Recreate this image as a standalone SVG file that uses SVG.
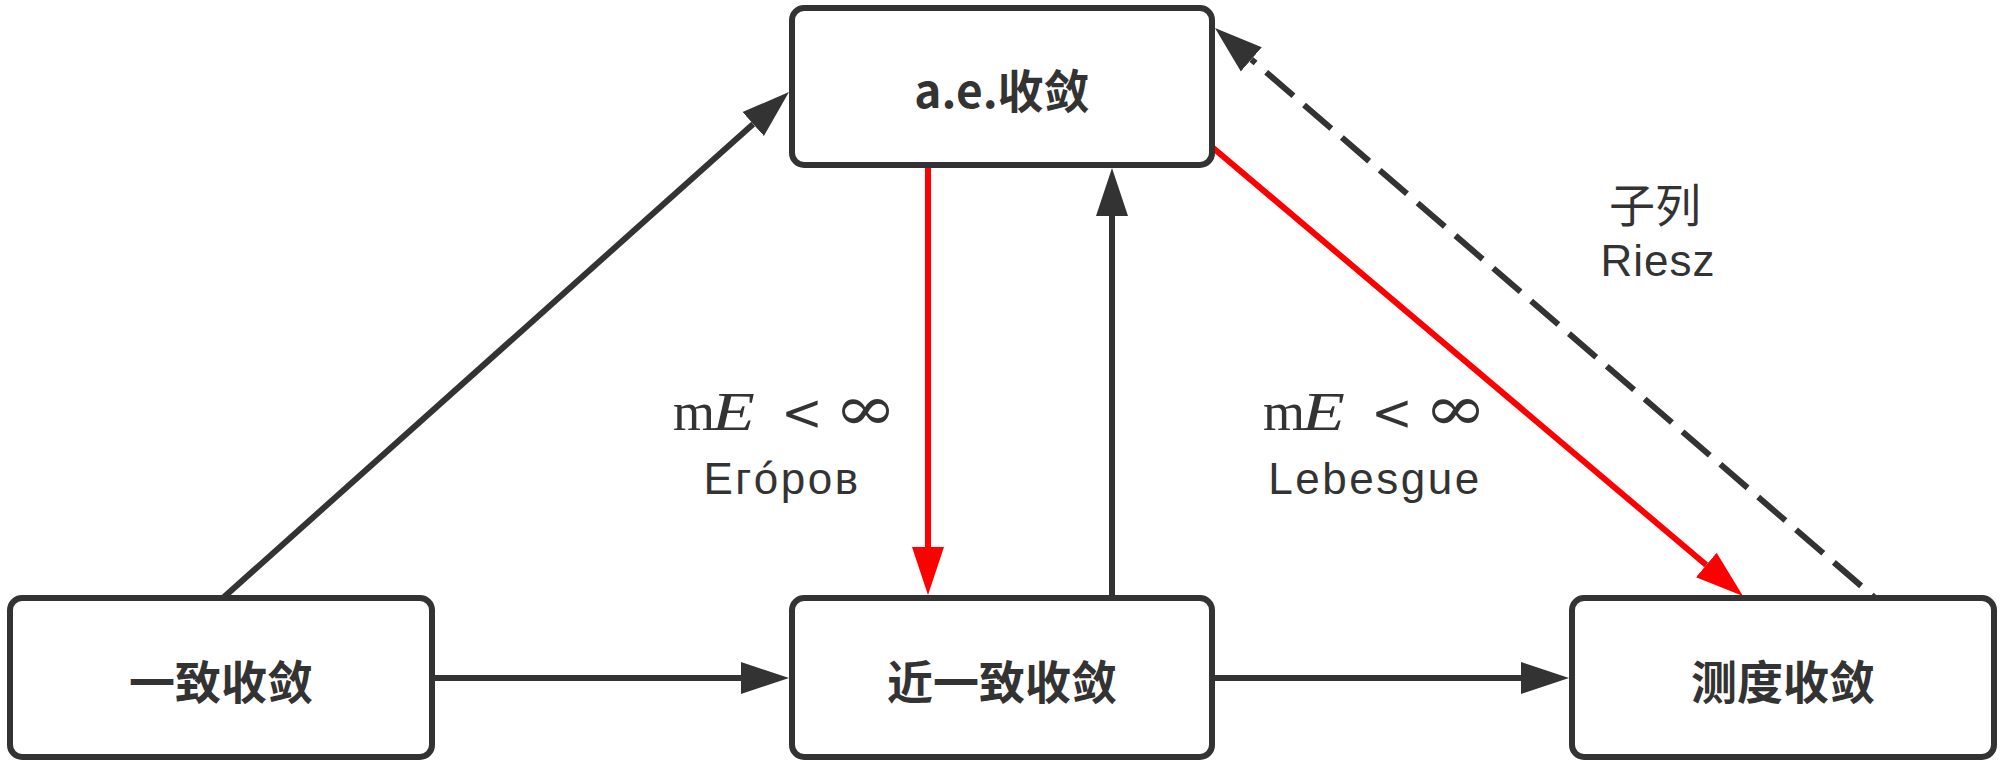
<svg xmlns="http://www.w3.org/2000/svg" width="2006" height="770" viewBox="0 0 2006 770">
<style>
.box{fill:#fff;stroke:#333;stroke-width:6}
.nt{font-family:"Noto Sans CJK SC","Noto Sans",sans-serif;font-weight:bold;font-size:46px;fill:#333;text-anchor:middle;dominant-baseline:central}
.ln{fill:none;stroke:#333;stroke-width:6}
.red{fill:none;stroke:#f00;stroke-width:6}
.dash{fill:none;stroke:#333;stroke-width:6;stroke-dasharray:36 14;stroke-dashoffset:33}
.lbl{font-family:"Liberation Sans","Noto Sans CJK SC",sans-serif;font-size:44px;fill:#333;text-anchor:middle}
.cjk{font-family:"Noto Sans CJK SC",sans-serif;font-size:46px;fill:#333;text-anchor:middle;dominant-baseline:central}
.mr{font-family:"Liberation Serif",serif;font-size:54px;fill:#333}
.mi{font-family:"Liberation Serif",serif;font-size:54px;font-style:italic;fill:#333}
.sym{font-family:"DejaVu Serif",serif;font-size:50px;fill:#333}
.inf{font-family:"DejaVu Serif",serif;font-size:63px;fill:#333}
</style>
<defs>
<marker id="ah" markerUnits="userSpaceOnUse" markerWidth="50" markerHeight="34" viewBox="0 -17 50 34" refX="0" refY="0" orient="auto"><path d="M0,-16 L48,0 L0,16 Z" fill="#333"/></marker>
<marker id="ahr" markerUnits="userSpaceOnUse" markerWidth="50" markerHeight="34" viewBox="0 -17 50 34" refX="0" refY="0" orient="auto"><path d="M0,-16 L48,0 L0,16 Z" fill="#f00"/></marker>
</defs>
<g id="connectors">
<path class="ln" d="M224,597 L753.2,124" marker-end="url(#ah)"/>
<path class="ln" d="M432,678 L741,678" marker-end="url(#ah)"/>
<path class="ln" d="M1212,678 L1521,678" marker-end="url(#ah)"/>
<path class="ln" d="M1112,598 L1112,216" marker-end="url(#ah)"/>
<path class="red" d="M928,165 L928,547" marker-end="url(#ahr)"/>
<path class="red" d="M1212,147 L1706.3,565" marker-end="url(#ahr)"/>
<path class="dash" d="M1874,597 L1251.3,59.4" marker-end="url(#ah)"/>
</g>
<g id="label-egorov">
<text class="mr" x="673" y="430">m</text>
<text class="mi" transform="translate(712,430) scale(1.3,1)">E</text>
<text class="sym" x="781" y="430">&lt;</text>
<text class="inf" transform="translate(834,430) scale(1.2,1)">∞</text>
<text class="lbl" x="782" y="494" letter-spacing="2.5">Егóров</text>
</g>
<g id="label-lebesgue">
<text class="mr" x="1263" y="430">m</text>
<text class="mi" transform="translate(1302,430) scale(1.3,1)">E</text>
<text class="sym" x="1371" y="430">&lt;</text>
<text class="inf" transform="translate(1424,430) scale(1.2,1)">∞</text>
<text class="lbl" x="1375" y="494" letter-spacing="2.5">Lebesgue</text>
</g>
<g id="label-riesz">
<text class="cjk" x="1655" y="202">子列</text>
<text class="lbl" x="1658" y="276" letter-spacing="1">Riesz</text>
</g>
<g id="node-ae">
<rect class="box" x="792" y="8" width="420" height="157" rx="12"/>
<text class="nt" x="1002" y="88">a.e.收敛</text>
</g>
<g id="node-uniform">
<rect class="box" x="10" y="598" width="422" height="159" rx="12"/>
<text class="nt" x="221" y="679">一致收敛</text>
</g>
<g id="node-near-uniform">
<rect class="box" x="792" y="598" width="420" height="159" rx="12"/>
<text class="nt" x="1002" y="679">近一致收敛</text>
</g>
<g id="node-measure">
<rect class="box" x="1572" y="598" width="422" height="159" rx="12"/>
<text class="nt" x="1783" y="679">测度收敛</text>
</g>
</svg>
